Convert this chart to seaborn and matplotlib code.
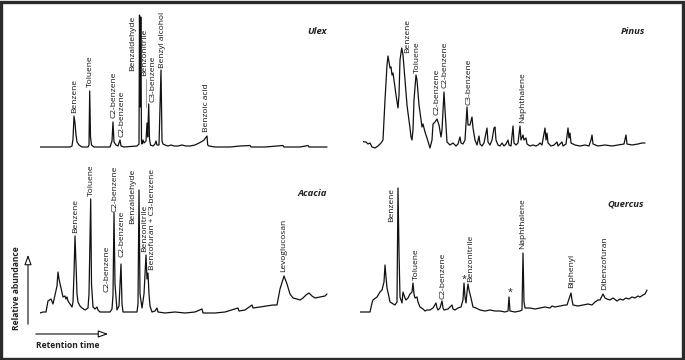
import matplotlib
matplotlib.use("Agg")
import matplotlib.pyplot as plt
import seaborn as sns
import pandas as pd
from matplotlib.patches import Rectangle

# ---------------- data (retention time a.u., relative abundance a.u.) ----------------
ulex_rt = [0, 30, 32, 33, 34, 35, 36, 37, 39, 42, 48, 49, 49.7, 50.5, 51.5, 54, 70, 71, 72, 73, 74, 76, 78, 80, 81, 84,
           97, 99, 99.5, 100.2, 100.8, 101.5, 102, 103, 104, 106, 107, 107.7, 108.7, 109.5, 110.5, 113, 115, 116, 117, 119,
           121, 122, 123, 125, 128, 131, 134, 138, 142, 146, 150, 155, 157, 161, 164, 167, 167.7, 169, 175, 190, 200,
           210, 211, 225, 243, 244, 260, 268, 269, 287]
ulex_ab = [0, 0, 1, 8, 31, 24, 12, 5, 2, 0, 0, 2, 56, 10, 2, 0, 0, 3, 6, 25, 5, 2, 1, 7, 1, 0,
           1, 3, 132, 40, 130, 5, 3, 7, 4, 6, 24, 10, 43, 8, 2, 1, 3, 6, 2, 2,
           77, 6, 3, 2, 1, 2, 1, 1, 2, 1, 1, 2, 3, 5, 7, 11, 2, 1, 0, 0, 1,
           1.5, 0, 0, 1.5, 0, 0, 1.5, 0, 0]

pinus_rt = [0, 3, 5, 7, 9, 12, 15, 18, 20, 22, 24, 25, 26, 27, 28, 29, 30, 31, 33, 35, 36, 37, 38.7, 40, 42, 44, 45, 47,
            48, 49, 50, 51, 53, 54, 56, 58, 59, 60, 62, 64, 67, 69, 70, 72, 74, 76, 78, 79, 81, 82, 84, 87, 90, 93, 95,
            97, 98, 100, 102, 104, 105, 107, 109, 110, 112, 114, 116, 117, 119, 121, 124, 125, 127, 129, 131, 132, 133,
            135, 137, 139, 141, 143, 145, 146, 148, 150, 151, 153, 155, 157, 158, 160, 161, 163, 164, 167, 170, 173,
            175, 177, 179, 182, 183, 184, 185, 188, 191, 194, 195, 199, 200, 203, 205, 206, 207, 208, 212, 217, 222,
            226, 228, 229, 230, 235, 242, 249, 255, 261, 263, 264, 269, 275, 279, 282]
pinus_ab = [3.3, 3, 1, 2, -2, -3, -1, 2, 5, 45, 80, 89, 83, 77, 78, 70, 72, 65, 50, 37, 50, 85, 97, 90, 65, 40, 32, 17,
            8, 5, 15, 45, 70, 65, 40, 25, 18, 21, 13, 7, -3, 5, 21, 23, 26, 20, 8, 15, 53, 35, 3, 0, 2, -1, 1,
            8, 2, 1, 5, 38, 20, 20, 28, 17, 5, 0, 9, 1, -1, 2, 17, 3, 0, 5, 17, 18, 5,
            0, -1, 2, -1, 1, 5, 0, -1, 19, 2, 0, 2, 19, 5, 10, 5, 7, 1, -1, 0, -1,
            0, 2, 0, 17, 5, 12, 2, -1, 0, 3, -1, 3, -1, 1, 17, 7, 12, 2, 0, -1, 0,
            -1, 5, 10, 1, -1, 0, -1, 0, 1, 10, 1, 0, 1, 2, 2]

acacia_rt = [0, 3, 6, 8, 11, 13, 15, 17, 18, 19, 21, 23, 25, 26, 27, 28, 30, 32, 33, 34, 35, 36, 37, 38, 40, 42, 45,
             48, 49, 50.7, 51.5, 53, 55, 57, 58, 60, 65, 70, 72, 73, 74, 75, 77, 79, 81, 82, 83, 90, 97, 98, 99, 100,
             102, 104, 106, 107, 108, 109, 110, 112, 115, 117, 118, 125, 135, 145, 155, 162, 163, 175, 185, 198, 199,
             205, 212, 213, 220, 233, 237, 240, 244, 247, 250, 253, 257, 260, 263, 266, 269, 272, 275, 280, 285, 287]
acacia_ab = [1, 2, 2, 13, 15, 10, 19, 28, 42, 35, 26, 17, 18, 15, 17, 13, 10, 7, 12, 40, 78, 50, 20, 12, 8, 6, 4,
             6, 20, 115, 30, 7, 5, 7, 4, 2, 2, 2, 5, 19, 101, 30, 4, 8, 50, 10, 2, 2, 2, 10, 124, 20,
             6, 20, 59, 35, 41, 20, 8, 2, 3, 6, 2, 1, 2, 1, 2, 5, 1, 1, 2, 6, 3,
             4, 9, 6, 7, 9, 9, 25, 38, 30, 20, 16, 15, 14, 16, 19, 21, 18, 16, 17, 18, 20]

quercus_rt = [0, 10, 12, 13, 17, 20, 22, 24, 25, 26, 27, 29, 30, 35, 37, 38, 39, 40, 42, 43, 45, 46, 48, 50, 52, 53,
              54, 55, 57, 58, 60, 63, 65, 67, 70, 73, 76, 77, 78, 80, 82, 83, 84, 88, 92, 93, 95, 98, 101, 103, 104,
              105, 106, 107, 108, 109, 111, 113, 116, 120, 125, 130, 135, 140, 145, 148, 149, 150, 155, 160, 162, 163,
              164, 165, 170, 175, 180, 185, 190, 192, 195, 200, 205, 207, 208, 211, 212, 213, 218, 223, 228, 232, 235,
              238, 240, 243, 245, 247, 250, 253, 257, 260, 263, 266, 269, 272, 275, 278, 280, 283, 285, 287]
quercus_ab = [0, 0, 9, 12, 15, 20, 22, 30, 47, 35, 24, 15, 10, 7, 10, 124, 60, 15, 9, 20, 14, 12, 14, 18, 20, 29,
              18, 14, 15, 10, 5, 3, 1, 2, 2, 4, 9, 4, 2, 4, 11, 4, 2, 3, 7, 3, 2, 4, 5, 12, 29,
              15, 9, 20, 28, 22, 14, 5, 4, 2, 1, 2, 1, 1, 0, 1, 15, 1, 0, 1, 2, 59,
              10, 4, 4, 3, 4, 5, 4, 6, 5, 6, 7, 7, 10, 19, 12, 7, 6, 7, 8, 7, 10,
              12, 12, 18, 14, 13, 12, 14, 11, 13, 12, 14, 13, 15, 14, 16, 15, 17, 18, 22]

# peak annotations: (name, retention time, abundance at label foot)
ulex_labels = [("Benzene", 35, 34), ("Toluene", 50, 60), ("C2-benzene", 74, 29), ("C2-benzene", 82, 10),
               ("Benzaldehyde", 93, 76), ("Benzonitrile", 105, 71), ("C3-benzene", 113, 45),
               ("Benzyl alcohol", 122, 79), ("Benzoic acid", 167, 15)]
pinus_labels = [("Benzene", 45, 92), ("Toluene", 54, 72), ("C2-benzene", 74, 30), ("C2-benzene", 82, 57),
                ("C3-benzene", 106, 40), ("Naphthalene", 160, 22)]
acacia_labels = [("Benzene", 36, 81), ("Toluene", 51, 118), ("C2-benzene", 67, 22), ("C2-benzene", 75, 102),
                 ("C2-benzene", 82, 57), ("Benzaldehyde", 93, 90), ("Benzonitrile", 105, 62),
                 ("Benzofuran + C3-benzene", 113, 44), ("Levoglucosan", 244, 42)]
quercus_labels = [("Benzene", 32, 90), ("Toluene", 56, 32), ("C2-benzene", 83, 13), ("Benzonitrile", 111, 30),
                  ("Naphthalene", 163, 63), ("Biphenyl", 212, 24), ("Dibenzofuran", 245, 22)]
quercus_stars = [(104, 33), (150, 20)]

panel_names = ["Ulex", "Pinus", "Acacia", "Quercus"]

# ---------------- figure ----------------
sns.set_theme(style="white")
plt.rcParams['font.family'] = ['Open Sans', 'DejaVu Sans']

W, H = 685, 360
fig = plt.figure(figsize=(W / 100, H / 100), dpi=100)
fig.patch.set_facecolor("white")

# overlay in pixel coordinates
over = fig.add_axes([0, 0, 1, 1])
over.set_xlim(0, W)
over.set_ylim(H, 0)
over.axis("off")

AW, UP, DN = 292, 145, 10  # axes width (px) and extent above/below baseline


def panel(x0, base, rt, ab, labels, title, title_pos):
    ax = fig.add_axes([x0 / W, 1 - (base + DN) / H, AW / W, (UP + DN) / H])
    df = pd.DataFrame({"rt": rt, "ab": ab})
    sns.lineplot(data=df, x="rt", y="ab", ax=ax, sort=False, estimator=None,
                 color="#111111", linewidth=0.9)
    ax.set_xlim(0, AW)
    ax.set_ylim(-DN, UP)
    ax.axis("off")
    for name, x, y in labels:
        ax.text(x, y, name, rotation=90, ha="center", va="bottom", fontsize=6.0,
                color="#111111", clip_on=False)
    ax.text(title_pos[0], title_pos[1], title, ha="right", va="center", fontsize=6.8,
            style="italic", fontweight="bold", color="#222222")
    return ax


ax_u = panel(40, 147, ulex_rt, ulex_ab, ulex_labels, panel_names[0], (287, 115))
ax_u.plot([105.5, 105.5], [68, 40], color="#777777", lw=0.5)
ax_p = panel(363, 145, pinus_rt, pinus_ab, pinus_labels, panel_names[1], (282, 113))
ax_a = panel(40, 314, acacia_rt, acacia_ab, acacia_labels, panel_names[2], (287, 120))
ax_q = panel(360, 312, quercus_rt, quercus_ab, quercus_labels, panel_names[3], (284, 108))
for x, y in quercus_stars:
    ax_q.text(x, y, "*", ha="center", va="center", fontsize=6.5, color="#111111")

# axis arrows
over.annotate("", xy=(28, 252), xytext=(28, 327),
              arrowprops=dict(arrowstyle="-|>,head_length=0.5,head_width=0.18", fc="white", ec="#111111", lw=0.8))
over.annotate("", xy=(111, 334), xytext=(33, 334),
              arrowprops=dict(arrowstyle="-|>,head_length=0.5,head_width=0.18", fc="white", ec="#111111", lw=0.8))
over.text(17, 288, "Relative abundance", rotation=90, ha="center", va="center",
          fontsize=6.1, fontweight="bold", color="#222222")
over.text(36, 345, "Retention time", ha="left", va="center",
          fontsize=6.1, fontweight="bold", color="#222222")

# dark frame
over.add_patch(Rectangle((1.5, 1.5), W - 3, H - 3, fill=False, ec="#2b2b2b", lw=2.4, clip_on=False))

fig.savefig("out.png", dpi=100, facecolor="white")
